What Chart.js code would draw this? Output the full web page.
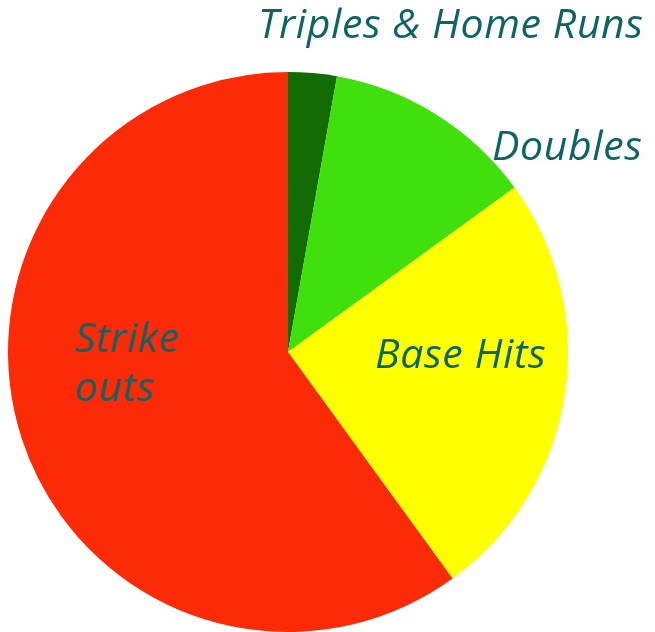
<!DOCTYPE html>
<html>
<head>
<meta charset="utf-8">
<script src="https://cdn.jsdelivr.net/npm/chart.js@4"></script>
<style>
  html, body { margin: 0; padding: 0; background: #ffffff; }
  #wrap { width: 655px; height: 632px; position: relative; }
</style>
</head>
<body>
<div id="wrap"><canvas id="myChart"></canvas></div>
<script>
// datos del gráfico
const categories = ['Triples & Home Runs', 'Doubles', 'Base Hits', 'Strike outs'];
const shares = [2.8, 12.2, 25, 60];
const sliceColors = ['#136b06', '#40e00c', '#ffff00', '#fc2a06'];

// texto de las etiquetas (líneas) y dónde va cada una
const labelLines = [['Triples & Home Runs'], ['Doubles'], ['Base Hits'], ['Strike', 'outs']];
const labelSpots = [[258, 38], [492, 160], [375, 368], [75, 352]];

const labelPlugin = {
    id: 'pieLabels',
    afterDraw(chart) {
        const ctx = chart.ctx;
        ctx.save();
        ctx.fillStyle = '#0b6466';
        ctx.font = 'italic 41px "Open Sans"';
        ctx.letterSpacing = '0.6px';
        ctx.textAlign = 'left';
        ctx.textBaseline = 'alphabetic';
        labelLines.forEach((lines, i) => {
            const [x, y] = labelSpots[i];
            lines.forEach((line, j) => {
                ctx.fillText(line, x, y + j * 49);
            });
        });
        ctx.restore();
    }
};

document.addEventListener('DOMContentLoaded', function() {
    const myChart = new Chart(document.getElementById('myChart'), {
        type: 'pie',
        data: {
            labels: categories,
            datasets: [{
                data: shares,
                backgroundColor: sliceColors,
                borderWidth: 0
            }]
        },
        options: {
            responsive: true,
            maintainAspectRatio: false,
            animation: false,
            layout: { padding: { left: 8, right: 87, top: 72, bottom: 0 } },
            plugins: {
                legend: { display: false },
                tooltip: { enabled: false }
            }
        },
        plugins: [labelPlugin]
    });
});
</script>
</body>
</html>
